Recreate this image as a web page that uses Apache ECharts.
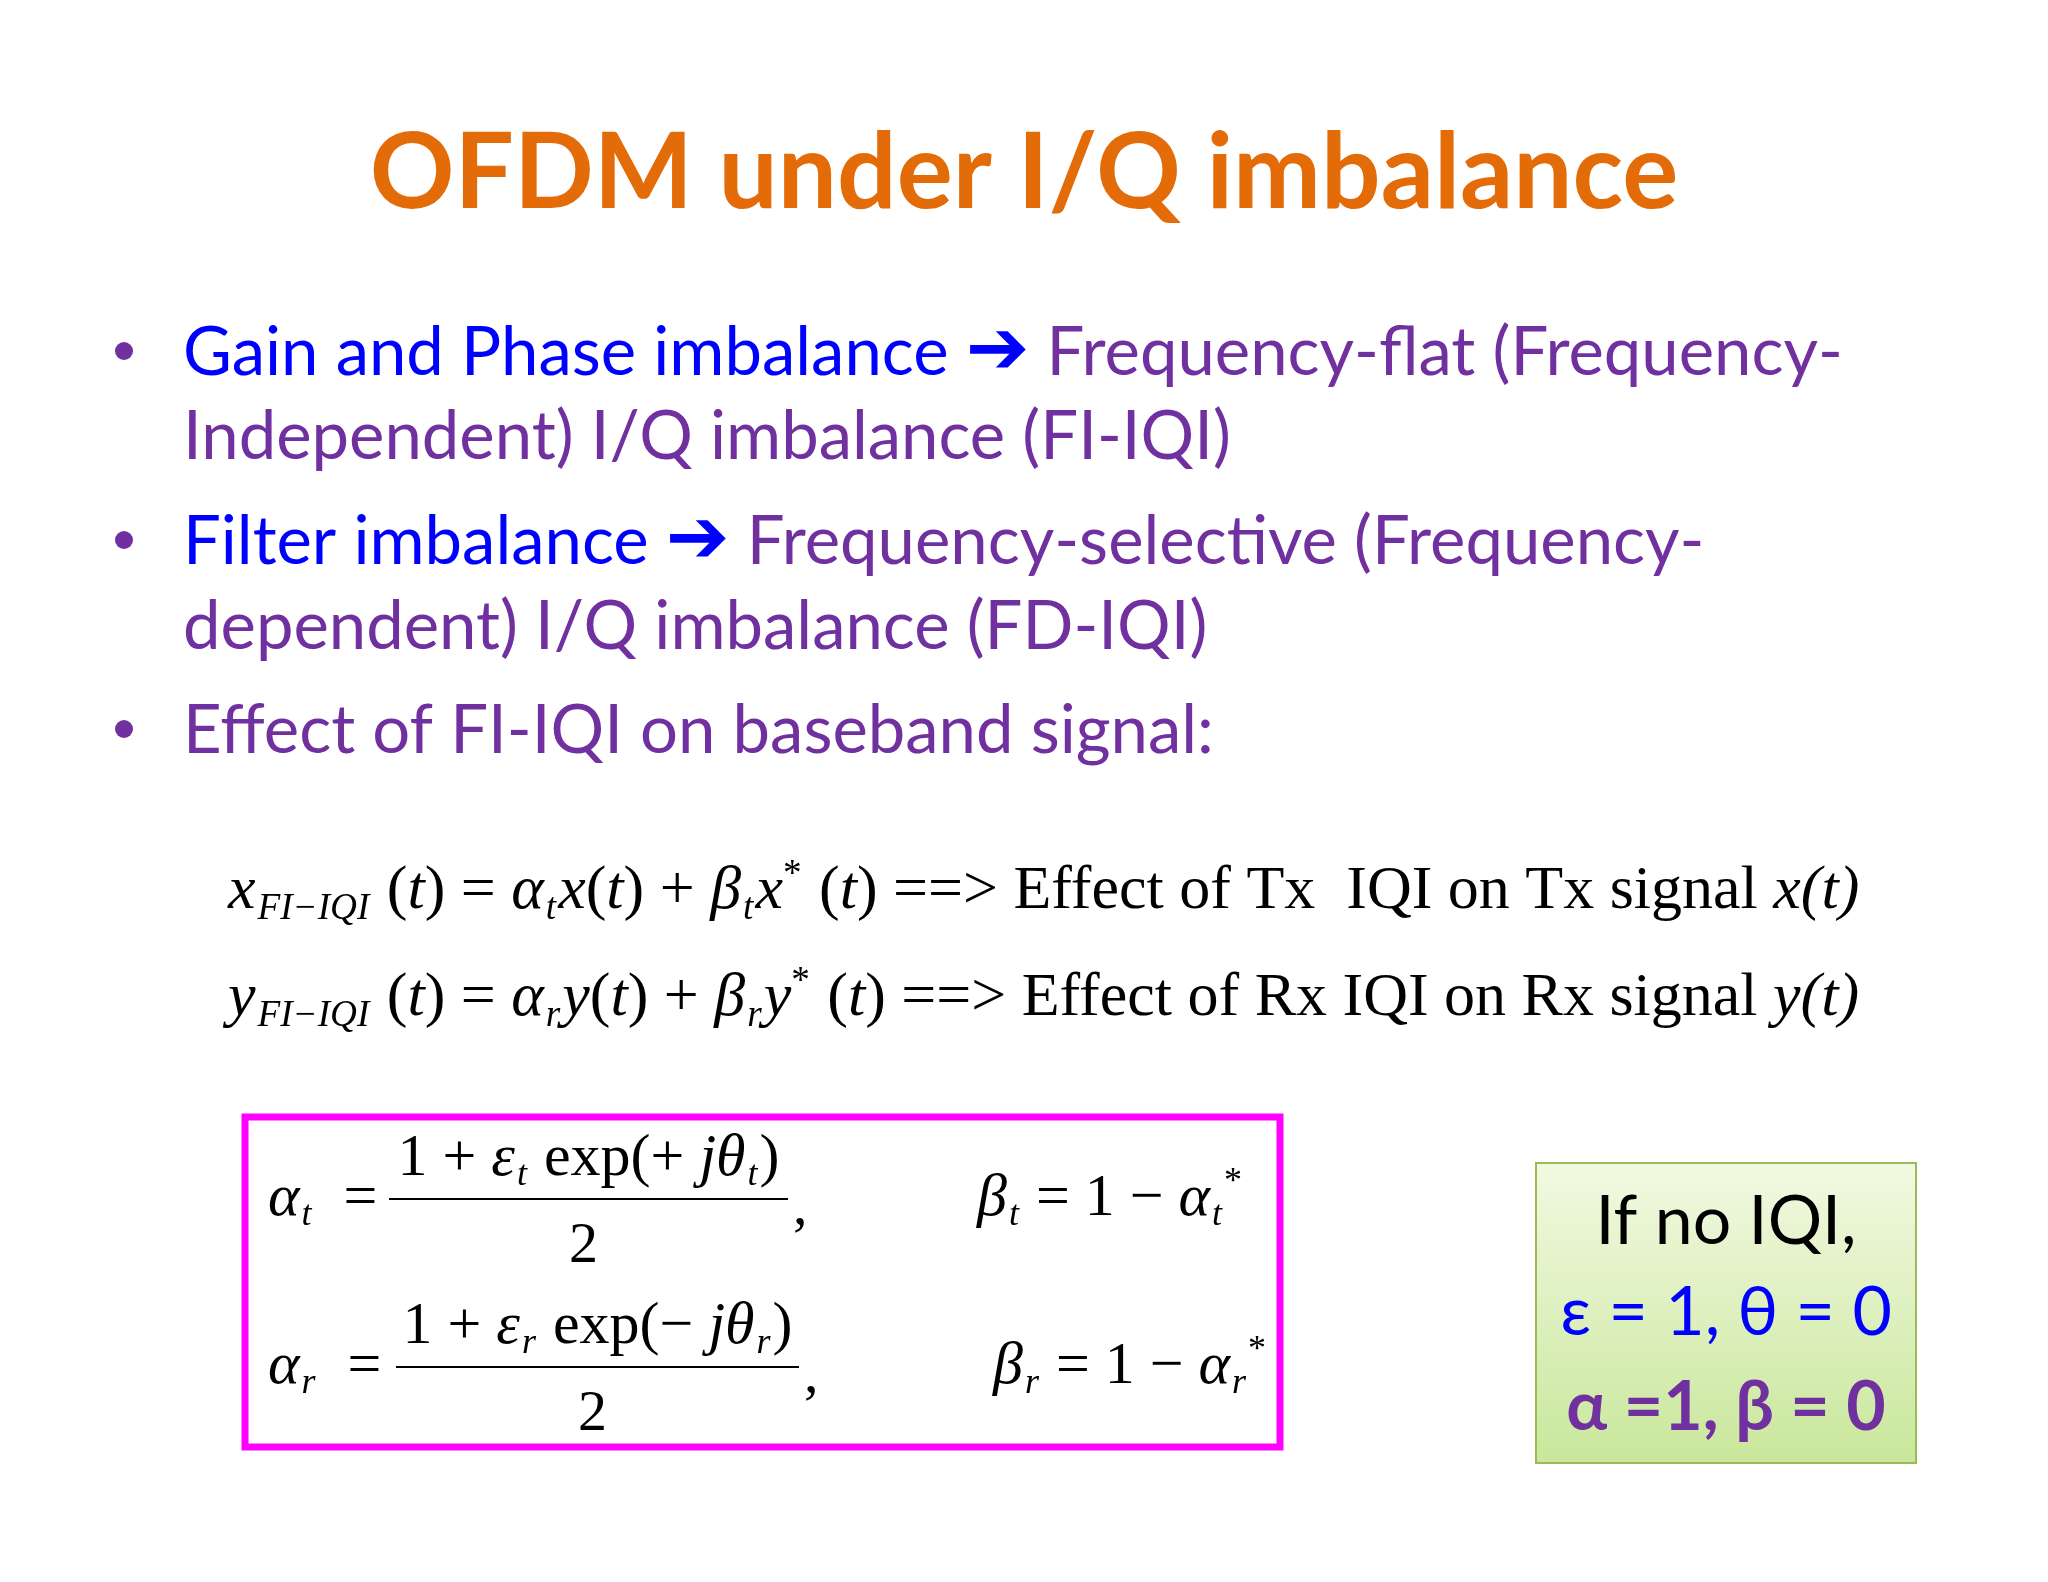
<!DOCTYPE html>
<html>
<head>
<meta charset="utf-8">
<script src="https://cdn.jsdelivr.net/npm/echarts@6/dist/echarts.min.js"></script>
<style>html,body{margin:0;padding:0;background:#fff}#main{width:2048px;height:1582px}</style>
</head>
<body>
<div id="main"></div>
<script>
// slide text
var titleText = 'OFDM under I/Q imbalance';
var bulletLines = [
  [['b', 'Gain and Phase imbalance '], ['ar', '➔'], ['p', ' Frequency-flat (Frequency-']],
  [['p', 'Independent) I/Q imbalance (FI-IQI)']],
  [['b', 'Filter imbalance '], ['ar', '➔'], ['p', ' Frequency-selective (Frequency-']],
  [['p', 'dependent) I/Q imbalance (FD-IQI)']],
  [['p', 'Effect of FI-IQI on baseband signal:']]
];
var bulletDots = [0, 2, 4];
var eqLines = [
  [['i','x'],['s','FI−IQI'],['r',' ('],['i','t'],['r',') = '],['i','α'],['s','t'],['i','x'],['r','('],['i','t'],['r',') + '],['i','β'],['s','t'],['i','x'],['p','*'],['r',' ('],['i','t'],['r',') ==> Effect of Tx  IQI on Tx signal '],['i','x(t)']],
  [['i','y'],['s','FI−IQI'],['r',' ('],['i','t'],['r',') = '],['i','α'],['s','r'],['i','y'],['r','('],['i','t'],['r',') + '],['i','β'],['s','r'],['i','y'],['p','*'],['r',' ('],['i','t'],['r',') ==> Effect of Rx IQI on Rx signal '],['i','y(t)']]
];
var alphaLhs = [[['i','α'],['s','t'],['r','  =']], [['i','α'],['s','r'],['r','  =']]];
var numerators = [
  [['r','1 + '],['i','ε'],['s','t'],['r',' exp(+ '],['i','jθ'],['s','t'],['r',')']],
  [['r','1 + '],['i','ε'],['s','r'],['r',' exp(− '],['i','jθ'],['s','r'],['r',')']]
];
var denominators = ['2', '2'];
var betaRhs = [
  [['i','β'],['s','t'],['r',' = 1 − '],['i','α'],['s','t'],['p','*']],
  [['i','β'],['s','r'],['r',' = 1 − '],['i','α'],['s','r'],['p','*']]
];
var noteLines = ['If no IQI,', 'ε = 1, θ = 0', 'α =1, β = 0'];

var SANS = 'Lato, "Open Sans", "DejaVu Sans", sans-serif';
var SERIF = '"Liberation Serif", "DejaVu Serif", serif';

function rich(segs) {
  return segs.map(function (s) { return '{' + s[0] + '|' + s[1] + '}'; }).join('');
}
var mathRich = function (fs) {
  return {
    r: {fontFamily: SERIF, fontSize: fs, fill: '#000'},
    i: {fontFamily: SERIF, fontSize: fs, fontStyle: 'italic', fill: '#000'},
    s: {fontFamily: SERIF, fontSize: fs * 0.6, fontStyle: 'italic', fill: '#000', padding: [fs * 0.55, 2, 0, 2]},
    p: {fontFamily: SERIF, fontSize: fs * 0.6, fill: '#000', padding: [0, 2, fs * 0.55, 0]}
  };
};

var g = [];
g.push({type: 'text', left: 'center', top: 122, style: {text: titleText, font: 'bold 105px ' + SANS, fill: '#E36C09'}});

var bulletY = [353, 437, 542, 627, 731];
var bRich = {
  b: {fontFamily: SANS, fontSize: 67, fill: '#0000FF'},
  p: {fontFamily: SANS, fontSize: 67, fill: '#7030A0'},
  ar: {fontFamily: '"DejaVu Sans", sans-serif', fontSize: 76, fontWeight: 'bold', fill: '#0000FF'}
};
bulletLines.forEach(function (l, k) {
  g.push({type: 'text', x: 183, y: bulletY[k], style: {text: rich(l), rich: bRich, verticalAlign: 'middle'}});
});
bulletDots.forEach(function (k) {
  g.push({type: 'circle', shape: {cx: 124, cy: bulletY[k] - 2, r: 9}, style: {fill: '#7030A0'}});
});

var eqY = [892, 999];
eqLines.forEach(function (l, k) {
  g.push({type: 'text', x: 228, y: eqY[k], style: {text: rich(l), rich: mathRich(62), verticalAlign: 'middle'}});
});

// magenta box
g.push({type: 'rect', shape: {x: 245, y: 1117, width: 1035, height: 330}, style: {fill: 'none', stroke: '#FF00FF', lineWidth: 7}});
var fracY = [1199, 1367], fracX = [[389, 788], [396, 799]], betaX = [977, 993];
for (var k = 0; k < 2; k++) {
  g.push({type: 'text', x: 268, y: fracY[k], style: {text: rich(alphaLhs[k]), rich: mathRich(60), verticalAlign: 'middle'}});
  g.push({type: 'text', x: (fracX[k][0] + fracX[k][1]) / 2, y: fracY[k] - 40, style: {text: rich(numerators[k]), rich: mathRich(60), align: 'center', verticalAlign: 'middle'}});
  g.push({type: 'line', shape: {x1: fracX[k][0], y1: fracY[k], x2: fracX[k][1], y2: fracY[k]}, style: {stroke: '#000', lineWidth: 2}});
  g.push({type: 'text', x: (fracX[k][0] + fracX[k][1]) / 2 - 5, y: fracY[k] + 48, style: {text: denominators[k], font: '58px ' + SERIF, fill: '#000', align: 'center', verticalAlign: 'middle'}});
  g.push({type: 'text', x: fracX[k][1] + 5, y: fracY[k] + 10, style: {text: ',', font: '58px ' + SERIF, fill: '#000', verticalAlign: 'middle'}});
  g.push({type: 'text', x: betaX[k], y: fracY[k], style: {text: rich(betaRhs[k]), rich: mathRich(60), verticalAlign: 'middle'}});
}

// green note box
g.push({type: 'rect', shape: {x: 1536, y: 1163, width: 380, height: 300}, style: {
  fill: new echarts.graphic.LinearGradient(0, 0, 0, 1, [{offset: 0, color: '#F2F9E2'}, {offset: 1, color: '#C9E79B'}]),
  stroke: '#9BBB59', lineWidth: 2}});
var noteY = [1222, 1313, 1408];
var noteStyle = [
  {font: '68px ' + SANS, fill: '#000'},
  {font: '68px ' + SANS, fill: '#0000FF'},
  {font: 'bold 68px ' + SANS, fill: '#7030A0'}
];
noteLines.forEach(function (t, k) {
  g.push({type: 'text', x: 1726, y: noteY[k], style: {text: t, font: noteStyle[k].font, fill: noteStyle[k].fill, align: 'center', verticalAlign: 'middle'}});
});

var chart = echarts.init(document.getElementById('main'));
chart.setOption({backgroundColor: '#FFFFFF', graphic: g});
</script>
</body>
</html>
